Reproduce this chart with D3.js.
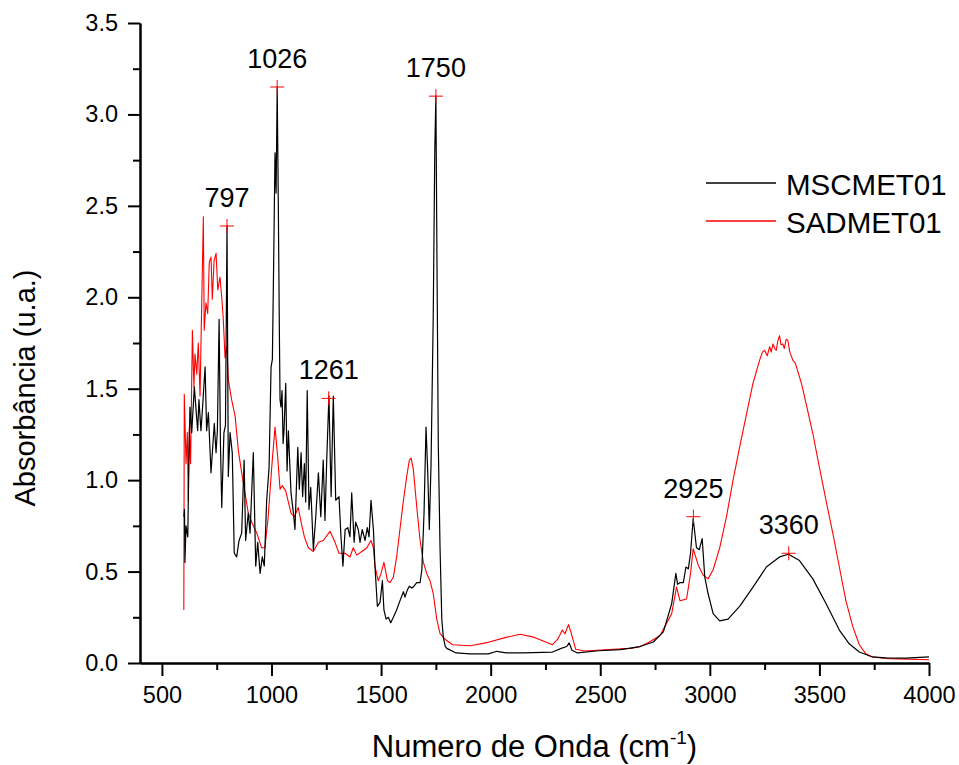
<!DOCTYPE html>
<html><head><meta charset="utf-8">
<script src="https://cdn.jsdelivr.net/npm/d3@7"></script>
<style>
html,body{margin:0;padding:0;background:#fff;}
svg text{font-family:"Liberation Sans",Arial,Helvetica,sans-serif;fill:#000;}
</style></head>
<body>
<svg id="chart" width="959" height="765"></svg>
<script>
// ---- DATA ----
const seriesNames = ["MSCMET01", "SADMET01"];
const seriesColors = ["#000000", "#ff0000"];

const mscmet01 = [[600,0.80],[603,0.84],[605,0.55],[610,0.75],[618,0.69],[623,1.1],[628,1.40],[636,1.26],[648,1.51],[656,1.38],[663,1.27],[669,1.44],[678,1.27],[684,1.37],[697,1.62],[704,1.27],[712,1.37],[724,1.04],[739,1.31],[747,1.15],[753,1.27],[761,1.88],[767,1.2],[773,0.85],[783,1.26],[790,1.3],[797,2.39],[803,1.02],[811,1.26],[821,1.15],[830,0.60],[841,0.58],[852,0.67],[864,0.71],[875,1.11],[882,0.67],[894,0.82],[902,0.71],[917,1.15],[928,0.53],[937,0.66],[948,0.49],[958,0.58],[967,0.53],[978,0.89],[989,1.07],[998,1.62],[1004,1.66],[1010,2.2],[1016,2.79],[1021,2.57],[1026,3.15],[1031,2.52],[1036,1.8],[1039,1.44],[1043,1.40],[1048,1.49],[1053,1.20],[1057,1.27],[1065,1.53],[1071,1.05],[1077,1.27],[1089,0.93],[1100,0.82],[1107,0.73],[1120,1.18],[1127,0.95],[1135,1.15],[1142,0.91],[1150,1.09],[1156,0.88],[1163,1.49],[1171,0.84],[1179,0.96],[1191,0.62],[1202,0.80],[1214,1.04],[1225,0.80],[1236,1.11],[1244,0.78],[1252,1.11],[1262,1.46],[1272,0.91],[1282,1.46],[1293,0.89],[1308,0.91],[1317,0.69],[1326,0.53],[1336,0.73],[1348,0.74],[1358,0.69],[1366,0.93],[1377,0.66],[1384,0.77],[1396,0.73],[1404,0.66],[1414,0.73],[1427,0.67],[1437,0.74],[1445,0.69],[1454,0.89],[1465,0.73],[1472,0.53],[1483,0.31],[1495,0.33],[1506,0.45],[1513,0.29],[1523,0.24],[1533,0.25],[1544,0.22],[1556,0.25],[1571,0.29],[1586,0.34],[1602,0.39],[1609,0.36],[1620,0.40],[1629,0.42],[1640,0.41],[1650,0.42],[1663,0.44],[1678,0.44],[1686,0.51],[1696,0.82],[1705,1.29],[1713,1.04],[1720,0.73],[1728,1.09],[1738,1.9],[1745,2.8],[1750,3.10],[1755,2.2],[1761,1.2],[1769,0.63],[1777,0.24],[1784,0.14],[1793,0.09],[1800,0.08],[1842,0.055],[1906,0.05],[1989,0.05],[2029,0.064],[2070,0.055],[2150,0.055],[2282,0.06],[2322,0.08],[2347,0.09],[2358,0.11],[2371,0.07],[2396,0.055],[2493,0.067],[2591,0.073],[2682,0.09],[2742,0.115],[2788,0.17],[2826,0.325],[2845,0.49],[2853,0.43],[2864,0.44],[2879,0.44],[2891,0.525],[2902,0.515],[2912,0.60],[2924,0.79],[2939,0.63],[2952,0.62],[2965,0.68],[2977,0.47],[2992,0.38],[3015,0.27],[3045,0.23],[3083,0.24],[3136,0.31],[3197,0.415],[3258,0.525],[3318,0.58],[3359,0.595],[3409,0.56],[3470,0.46],[3530,0.325],[3591,0.18],[3636,0.105],[3682,0.06],[3742,0.033],[3800,0.028],[3894,0.027],[4000,0.033]];

const sadmet01 = [[600,0.29],[602,1.47],[610,1.09],[616,1.26],[620,0.89],[625,1.29],[631,1.09],[639,1.82],[646,1.51],[651,1.69],[659,1.58],[666,1.75],[674,1.46],[678,1.73],[689,2.44],[693,1.82],[701,1.97],[709,1.91],[716,2.19],[724,2.22],[730,1.99],[738,2.20],[747,2.24],[755,2.04],[765,2.11],[773,2.00],[780,1.88],[788,1.67],[796,1.73],[803,1.55],[818,1.44],[834,1.35],[849,1.16],[864,1.04],[879,0.93],[894,0.82],[910,0.77],[933,0.71],[955,0.63],[970,0.63],[985,0.80],[1001,1.07],[1016,1.29],[1028,1.13],[1039,0.95],[1049,0.97],[1065,0.94],[1077,0.88],[1089,0.82],[1104,0.80],[1122,0.85],[1135,0.77],[1150,0.69],[1168,0.63],[1191,0.61],[1214,0.66],[1236,0.67],[1267,0.72],[1290,0.66],[1308,0.60],[1336,0.60],[1358,0.58],[1373,0.63],[1389,0.59],[1412,0.61],[1435,0.63],[1454,0.67],[1465,0.63],[1472,0.53],[1487,0.45],[1500,0.49],[1513,0.55],[1529,0.45],[1541,0.44],[1556,0.47],[1571,0.58],[1586,0.73],[1602,0.89],[1617,1.02],[1629,1.11],[1637,1.12],[1647,1.06],[1663,0.85],[1678,0.67],[1693,0.55],[1708,0.49],[1723,0.45],[1738,0.38],[1754,0.24],[1769,0.16],[1792,0.13],[1826,0.10],[1907,0.094],[1989,0.113],[2070,0.14],[2135,0.157],[2200,0.14],[2282,0.10],[2306,0.13],[2327,0.18],[2339,0.16],[2355,0.21],[2366,0.17],[2388,0.075],[2428,0.066],[2558,0.075],[2640,0.08],[2682,0.09],[2722,0.113],[2773,0.15],[2826,0.27],[2848,0.415],[2864,0.34],[2894,0.35],[2912,0.49],[2924,0.625],[2947,0.535],[2970,0.48],[2992,0.46],[3015,0.51],[3045,0.63],[3076,0.80],[3106,1.00],[3136,1.18],[3167,1.36],[3197,1.53],[3227,1.655],[3240,1.70],[3250,1.71],[3262,1.68],[3273,1.73],[3280,1.70],[3288,1.745],[3296,1.72],[3303,1.71],[3310,1.76],[3318,1.79],[3325,1.74],[3333,1.745],[3340,1.72],[3348,1.77],[3356,1.765],[3365,1.70],[3379,1.655],[3390,1.64],[3409,1.565],[3420,1.52],[3439,1.42],[3470,1.255],[3500,1.07],[3530,0.89],[3561,0.71],[3591,0.525],[3621,0.34],[3652,0.20],[3682,0.10],[3712,0.05],[3742,0.033],[3818,0.024],[4000,0.018]];

const peakWn = [797, 1026, 1261, 1750, 2925, 3360];
const peakAbs = [2.39, 3.15, 1.447, 3.10, 0.80, 0.60];
const peakLabels = ["797", "1026", "1261", "1750", "2925", "3360"];

const xMajorTicks = [500, 1000, 1500, 2000, 2500, 3000, 3500, 4000];
const xMinorTicks = [750, 1250, 1750, 2250, 2750, 3250, 3750];
const yMajorTicks = [0, 0.5, 1.0, 1.5, 2.0, 2.5, 3.0, 3.5];
const yMinorTicks = [0.25, 0.75, 1.25, 1.75, 2.25, 2.75, 3.25];

const xTitle = "Numero de Onda (cm";
const xTitleSup = "-1";
const yTitle = "Absorbância (u.a.)";

// ---- CHART ----
(function(){
const svg = d3.select("#chart");
const mL = 140, mR = 929, mT = 23, mB = 663;
const x = d3.scaleLinear().domain([400, 4000]).range([mL, mR]);
const y = d3.scaleLinear().domain([0, 3.5]).range([mB, mT]);

const line = d3.line().x(d => x(d[0])).y(d => y(d[1]));

svg.append("path").datum(sadmet01).attr("d", line)
  .attr("fill", "none").attr("stroke", seriesColors[1]).attr("stroke-width", 1.1).attr("stroke-linejoin","round");
svg.append("path").datum(mscmet01).attr("d", line)
  .attr("fill", "none").attr("stroke", seriesColors[0]).attr("stroke-width", 1.2).attr("stroke-linejoin","round");

function styleAxis(g){
  g.select(".domain").attr("stroke","#000").attr("stroke-width",2);
  g.selectAll(".tick line").attr("stroke","#000").attr("stroke-width",2);
  g.selectAll(".tick text").attr("font-size","23.5px").attr("fill","#000")
    .attr("font-family",'"Liberation Sans",Arial,sans-serif');
}
const xAxisMajor = svg.append("g").attr("transform", `translate(0,${mB})`)
  .call(d3.axisBottom(x).tickValues(xMajorTicks).tickFormat(d3.format("d")).tickSize(13).tickSizeOuter(0).tickPadding(10));
styleAxis(xAxisMajor);
const xAxisMinor = svg.append("g").attr("transform", `translate(0,${mB})`)
  .call(d3.axisBottom(x).tickValues(xMinorTicks).tickFormat("").tickSize(7).tickSizeOuter(0));
styleAxis(xAxisMinor);

const yAxisMajor = svg.append("g").attr("transform", `translate(${mL},0)`)
  .call(d3.axisLeft(y).tickValues(yMajorTicks).tickFormat(d3.format(".1f")).tickSize(12).tickSizeOuter(0).tickPadding(10));
styleAxis(yAxisMajor);
const yAxisMinor = svg.append("g").attr("transform", `translate(${mL},0)`)
  .call(d3.axisLeft(y).tickValues(yMinorTicks).tickFormat("").tickSize(7).tickSizeOuter(0));
styleAxis(yAxisMinor);

const xt = svg.append("text").attr("x", (mL + mR) / 2).attr("y", 757)
  .attr("text-anchor", "middle").attr("font-size", "31px");
xt.append("tspan").text(xTitle);
xt.append("tspan").attr("font-size", "19px").attr("dy", "-13").text(xTitleSup);
xt.append("tspan").attr("dy", "13").text(")");

svg.append("text").attr("transform", "translate(35,388) rotate(-90)")
  .attr("text-anchor", "middle").attr("font-size", "29px").text(yTitle);

peakWn.forEach((wn, i) => {
  const px = x(wn), py = y(peakAbs[i]);
  svg.append("line").attr("x1", px - 7).attr("x2", px + 7).attr("y1", py).attr("y2", py)
    .attr("stroke", "#ff0000").attr("stroke-width", 1);
  svg.append("line").attr("x1", px).attr("x2", px).attr("y1", py - 7).attr("y2", py + 7)
    .attr("stroke", "#ff0000").attr("stroke-width", 1);
  svg.append("text").attr("x", px).attr("y", py - 19).attr("text-anchor", "middle")
    .attr("font-size", "27px").text(peakLabels[i]);
});

seriesNames.forEach((name, i) => {
  const ly = 183 + i * 38;
  svg.append("line").attr("x1", 706).attr("x2", 776).attr("y1", ly).attr("y2", ly)
    .attr("stroke", seriesColors[i]).attr("stroke-width", 1.3);
  svg.append("text").attr("x", 786).attr("y", ly + 11.5).attr("font-size", "29.5px").text(name);
});
})();
</script>
</body></html>
